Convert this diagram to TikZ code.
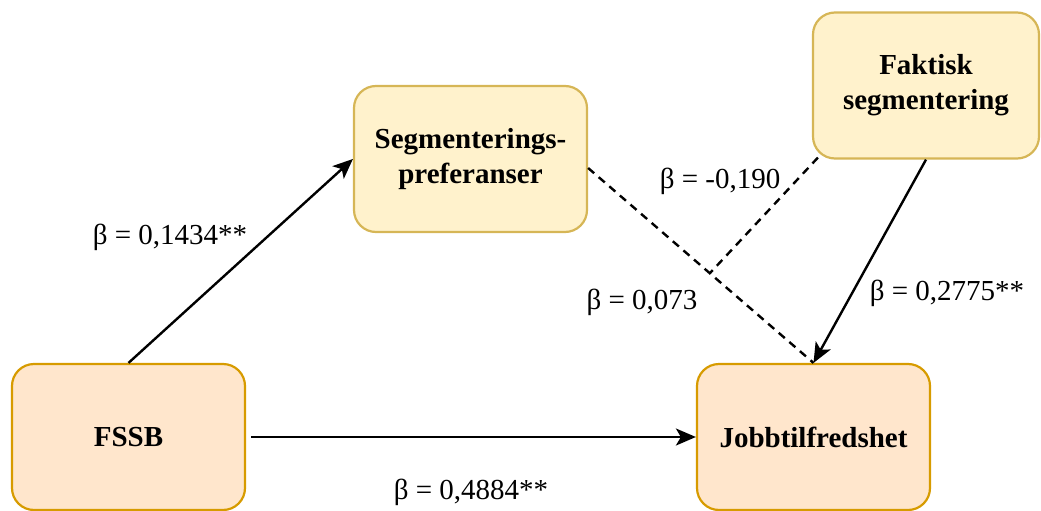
\documentclass[tikz,border=0pt]{standalone}
\usepackage{fontspec}
\setmainfont{Liberation Serif}
\usetikzlibrary{arrows.meta,calc}
\definecolor{orfill}{HTML}{FFE6CC}
\definecolor{ordraw}{HTML}{D79B00}
\definecolor{yefill}{HTML}{FFF2CC}
\definecolor{yedraw}{HTML}{D6B656}
\tikzset{
  boxbase/.style={rectangle, rounded corners=22pt, line width=2.2pt, minimum width=233pt, minimum height=146pt, align=center, font=\fontsize{29}{35}\selectfont\bfseries, inner sep=0pt},
  orbox/.style={boxbase, fill=orfill, draw=ordraw},
  yebox/.style={boxbase, fill=yefill, draw=yedraw},
  conn/.style={line width=2.4pt, -{Stealth[length=20pt,width=17pt,inset=5pt]}},
  modline/.style={line width=2.4pt, dash pattern=on 8pt off 6pt},
  lab/.style={font=\fontsize{29}{34}\selectfont, inner sep=0pt}
}
\begin{document}
\begin{tikzpicture}[x=1pt,y=-1pt]
\useasboundingbox (0,0) rectangle (1041,511);
\node[orbox] (fssb) at (128.5,437) {FSSB};
\node[orbox] (jobb) at (813.5,437) {Jobbtilfredshet};
\node[yebox] (seg) at (470.5,159) {Segmenterings-\\preferanser};
\node[yebox, minimum width=226pt] (fak) at (926,85.5) {Faktisk\\segmentering};
\draw[conn] (fssb.north) -- (seg.west);
\draw[conn] ($(fssb.east)+(5,0)$) -- (jobb.west);
\draw[conn] (fak.south) -- (jobb.north);
\draw[modline] ($(seg.east)+(0,9)$) -- coordinate[pos=0.54] (mid) (jobb.north);
\draw[modline] ($(fak.south west)+(6,-2)$) -- (mid);
\node[lab] (l1) at (170,237) {β = 0,1434**};
\node[lab] (l2) at (720,181) {β = -0,190};
\node[lab] (l3) at (642,302) {β = 0,073};
\node[lab] (l4) at (947,293) {β = 0,2775**};
\node[lab] (l5) at (471,492) {β = 0,4884**};
\end{tikzpicture}
\end{document}
